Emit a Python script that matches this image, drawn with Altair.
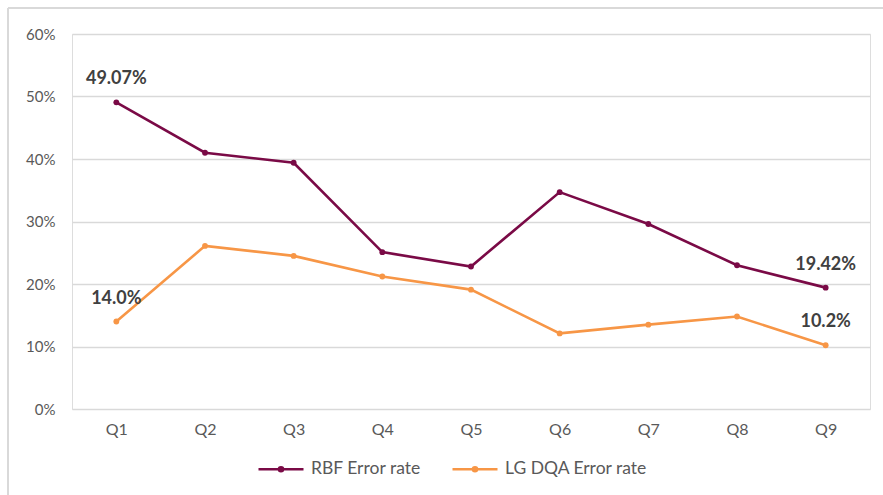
import altair as alt
import pandas as pd

quarters = ["Q1", "Q2", "Q3", "Q4", "Q5", "Q6", "Q7", "Q8", "Q9"]
rbf_rate = [49.07, 41.0, 39.4, 25.1, 22.8, 34.7, 29.6, 23.0, 19.42]
lg_rate = [14.0, 26.1, 24.5, 21.2, 19.1, 12.1, 13.5, 14.8, 10.2]
series_names = ["RBF Error rate", "LG DQA Error rate"]
series_colors = ["#7A0A46", "#F79646"]

rows = []
for q, a, b in zip(quarters, rbf_rate, lg_rate):
    rows.append({"quarter": q, "series": series_names[0], "rate": a / 100, "label": f"{a:.2f}%"})
    rows.append({"quarter": q, "series": series_names[1], "rate": b / 100, "label": f"{b:.1f}%"})
df = pd.DataFrame(rows)

FONT = "Lato"
LABEL_GREY = "#595959"

x = alt.X("quarter:N", sort=quarters, title=None,
          scale=alt.Scale(paddingInner=0, paddingOuter=0.5),
          axis=alt.Axis(labelAngle=0, domain=False, ticks=False, grid=False,
                        labelPadding=12, labelFontSize=16, labelColor=LABEL_GREY,
                        labelFont=FONT))
y = alt.Y("rate:Q", title=None,
          scale=alt.Scale(domain=[0, 0.6]),
          axis=alt.Axis(format=".0%", values=[0, 0.1, 0.2, 0.3, 0.4, 0.5, 0.6],
                        domain=False, ticks=False, labelPadding=17,
                        labelFontSize=15, labelColor=LABEL_GREY, labelFont=FONT,
                        gridColor="#D9D9D9", gridWidth=1.5))

# line-with-dot legend glyph
legend_symbol = "M-1,0H1M-0.09,0a0.09,0.09 0 1,0 0.18,0a0.09,0.09 0 1,0 -0.18,0"

color = alt.Color("series:N", sort=series_names,
                  scale=alt.Scale(domain=series_names, range=series_colors),
                  legend=alt.Legend(title=None, orient="none", direction="horizontal",
                                    legendX=185, legendY=411,
                                    symbolType=legend_symbol, symbolSize=2025,
                                    symbolStrokeWidth=2.6, labelFontSize=17.5,
                                    labelColor=LABEL_GREY, labelFont=FONT,
                                    columnPadding=26, labelOffset=6))

lines = alt.Chart(df).mark_line(strokeWidth=2.6).encode(x=x, y=y, color=color)
points = alt.Chart(df).mark_point(filled=True, size=34, opacity=1).encode(
    x=x, y=y, color=alt.Color("series:N", scale=alt.Scale(domain=series_names, range=series_colors), legend=None))

ends = df[df["quarter"].isin([quarters[0], quarters[-1]])]
labels = alt.Chart(ends).mark_text(fontSize=18, fontWeight="bold", font=FONT,
                                   color="#404040", dy=-23).encode(
    x=x, y=y, text="label:N")

# outer frame lines (left and top edges)
frame_left = alt.Chart().mark_rule(color="#D9D9D9", strokeWidth=2).encode(
    x=alt.value(-64), y=alt.value(-26), y2=alt.value(470))
frame_top = alt.Chart().mark_rule(color="#D9D9D9", strokeWidth=2).encode(
    x=alt.value(-64), x2=alt.value(820), y=alt.value(-26))

chart = alt.layer(frame_left, frame_top, lines, points, labels).properties(
    width=798, height=375,
    padding={"left": 72, "top": 34, "right": 13, "bottom": 86},
    autosize=alt.AutoSizeParams(type="none"),
).configure_view(stroke=None).configure(background="white")

chart.save("out.html", embed_options={"renderer": "svg", "actions": False})
